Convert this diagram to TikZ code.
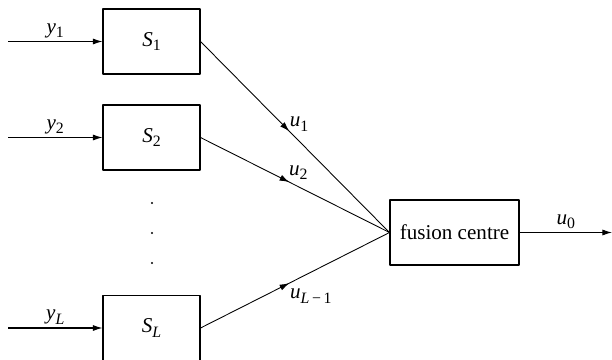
\documentclass[tikz,border=0pt]{standalone}
\usepackage{fontspec}
\setmainfont{Liberation Serif}
\usetikzlibrary{arrows.meta,decorations.markings}
\newcommand{\vr}[2]{\textit{#1}\raisebox{-0.45ex}{\fontsize{9}{10}\selectfont #2}}
\begin{document}
\begin{tikzpicture}[font=\fontsize{12}{14}\selectfont, line join=round,
		>={Latex[length=5.5pt,width=3.5pt]},
		sensor/.style={draw, line width=0.6pt, minimum width=1.94cm, minimum height=1.3cm},
		flow/.style={line width=0.5pt, postaction={decorate},
			decoration={markings, mark=at position 0.47 with {\arrow{>}}}}]
		\useasboundingbox (0,0) rectangle (12.24,7.18);
		\def \xin{0.16}
		\def \xout{12.24}
		\node[sensor] (s1) at (3.03,6.35) {\vr{S}{1}};
		\node[sensor] (s2) at (3.03,4.43) {\vr{S}{2}};
		\node[sensor] (sL) at (3.03,0.62) {\vr{S}{\textit{L}}};
		\node[sensor, minimum width=2.58cm] (fc) at (9.09,2.53) {fusion centre};
		\coordinate (in1) at (\xin,6.35);
		\coordinate (in2) at (\xin,4.43);
		\coordinate (inL) at (\xin,0.62);
		\coordinate (out) at (\xout,2.53);
		\draw[->, line width=0.6pt] (in1) -- node[above=-1.5pt] {\vr{y}{1}} (s1);
		\draw[->, line width=0.6pt] (in2) -- node[above=-1.5pt] {\vr{y}{2}} (s2);
		\draw[->, line width=0.6pt] (inL) -- node[above=-1.5pt] {\vr{y}{\textit{L}}} (sL);
		\draw[flow] (s1.east) -- node[shift=(72:0.27)] {\vr{u}{1}} (fc.west);
		\draw[flow] (s2.east) -- node[shift=(75:0.25)] {\vr{u}{2}} (fc.west);
		\draw[flow] (sL.east) -- node[shift=(-45:0.45)] {\vr{u}{\textit{L}\,−\,1}} (fc.west);
		\draw[->, line width=0.6pt] (fc) -- node[above=-1.5pt] {\vr{u}{0}} (out);
		\fill (3.04,3.12) circle(0.6pt)
		(3.04,2.52) circle(0.6pt)
		(3.04,1.92) circle(0.6pt);
	\end{tikzpicture}
\end{document}
